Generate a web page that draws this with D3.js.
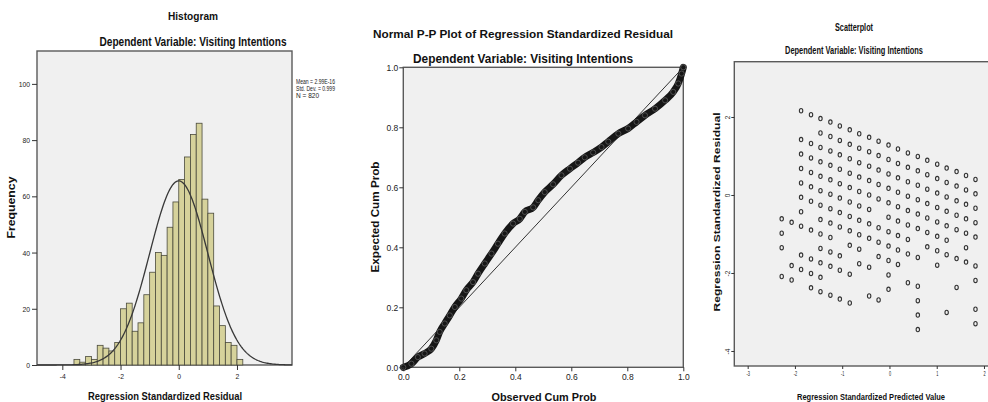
<!DOCTYPE html>
<html>
<head>
<meta charset="utf-8">
<script src="https://cdn.jsdelivr.net/npm/d3@7"></script>
<style>
  body { margin: 0; background: #fff; }
  svg { display: block; font-family: "Liberation Sans", Arial, sans-serif; }
</style>
</head>
<body>
<svg id="canvas" width="988" height="402"></svg>
<script>
// ---- histogram data ----
const histEdges = [-3.6, -3.4, -3.2, -3.0, -2.8, -2.6, -2.4, -2.2, -2.0, -1.8, -1.6, -1.4, -1.2, -1.0,
  -0.8, -0.6, -0.4, -0.2, 0.0, 0.2, 0.4, 0.6, 0.8, 1.0, 1.2, 1.4, 1.6, 1.8, 2.0, 2.2]
const histCounts = [2, 1, 3, 2, 7, 6, 5, 8, 20, 22, 12, 15, 25, 33, 40, 39, 49, 58, 66, 74, 82, 86,
  59, 54, 21, 14, 8, 7, 2]
const histMean = 2.99e-16
const histSd = 0.999
const histN = 820
const histStats = ["Mean = 2.99E-16", "Std. Dev. = 0.999", "N = 820"]
const histXTicks = [-4, -2, 0, 2]
const histYTicks = [0, 20, 40, 60, 80, 100]

// ---- P-P plot data ----
const ppObserved = [0, 0.029, 0.052, 0.076, 0.100, 0.118, 0.130, 0.148, 0.166, 0.184, 0.207, 0.225,
  0.249, 0.267, 0.291, 0.315, 0.338, 0.362, 0.392, 0.416, 0.434, 0.464, 0.482, 0.505, 0.535, 0.565,
  0.595, 0.624, 0.648, 0.678, 0.708, 0.732, 0.768, 0.803, 0.833, 0.863, 0.899, 0.935, 0.964, 0.982,
  0.994, 1.0]
const ppExpected = [0, 0.012, 0.034, 0.046, 0.062, 0.090, 0.118, 0.146, 0.173, 0.201, 0.229, 0.257,
  0.284, 0.312, 0.346, 0.379, 0.412, 0.446, 0.479, 0.495, 0.518, 0.533, 0.557, 0.584, 0.610, 0.640,
  0.662, 0.682, 0.700, 0.716, 0.734, 0.752, 0.779, 0.796, 0.818, 0.840, 0.862, 0.890, 0.918, 0.946,
  0.979, 1.0]
const ppTicks = [0, 0.2, 0.4, 0.6, 0.8, 1.0]

// ---- scatterplot data: one predicted value per column, residuals in that column ----
const predicted = [-2.28, -2.07, -1.87, -1.66, -1.46, -1.25, -1.05, -0.84, -0.64, -0.43, -0.23,
  -0.02, 0.18, 0.39, 0.60, 0.80, 1.01, 1.21, 1.42, 1.62, 1.82]
const residuals = [
  [-0.61, -0.98, -1.35, -2.09],
  [-0.70, -1.81, -2.18],
  [2.16, 1.42, 1.05, 0.68, 0.31, -0.06, -0.43, -0.80, -1.54, -1.91],
  [2.06, 1.32, 0.95, 0.58, 0.21, -0.16, -0.90, -1.64, -2.01, -2.38],
  [1.96, 1.59, 1.22, 0.85, 0.48, 0.11, -0.26, -0.63, -1.00, -1.37, -1.74, -2.11, -2.48],
  [1.87, 1.50, 1.13, 0.76, 0.39, 0.02, -0.35, -0.72, -1.09, -1.46, -1.83, -2.57],
  [1.77, 1.40, 1.03, 0.66, 0.29, -0.08, -0.45, -0.82, -1.56, -1.93, -2.67],
  [1.67, 1.30, 0.93, 0.56, 0.19, -0.18, -0.55, -0.92, -1.29, -2.03, -2.77],
  [1.57, 1.20, 0.83, 0.46, 0.09, -0.28, -0.65, -1.02, -1.39, -1.76],
  [1.48, 1.11, 0.74, 0.37, 0.00, -0.37, -0.74, -1.11, -1.85, -2.59],
  [1.38, 1.01, 0.64, 0.27, -0.10, -0.84, -1.21, -1.58, -2.69],
  [1.28, 0.91, 0.54, 0.17, -0.20, -0.57, -0.94, -1.31, -1.68, -2.05, -2.42],
  [1.18, 0.81, 0.44, 0.07, -0.30, -0.67, -1.04, -1.41, -1.78],
  [1.08, 0.71, 0.34, -0.03, -0.40, -0.77, -1.14, -1.51, -2.25],
  [0.99, 0.62, 0.25, -0.12, -0.49, -0.86, -1.60, -2.34, -2.71, -3.08, -3.45],
  [0.89, 0.52, 0.15, -0.22, -0.59, -0.96, -1.33],
  [0.79, 0.42, 0.05, -0.32, -0.69, -1.06, -1.43, -1.80],
  [0.69, 0.32, -0.05, -0.42, -0.79, -1.16, -1.53, -3.01],
  [0.60, 0.23, -0.15, -0.52, -0.89, -1.63, -2.37],
  [0.50, 0.13, -0.24, -0.61, -0.98, -1.35, -1.72],
  [0.40, 0.03, -0.34, -0.71, -1.08, -1.82, -2.19, -2.93, -3.30]
]
const scatterXTicks = [-3, -2, -1, 0, 1, 2]
const scatterYTicks = [-4, -2, 0, 2]

const svg = d3.select('#canvas')
const plain = d => String(d)   // hyphen minus, like the original

// squash text horizontally like the (narrow) original export
const squeeze = (sel, f) => {
  sel.each(function () {
    const w = this.getComputedTextLength()
    d3.select(this).attr('textLength', w * f).attr('lengthAdjust', 'spacingAndGlyphs')
  })
}

const title = (x, y, txt, size, w) => {
  svg.append('text')
    .attr('x', x).attr('y', y)
    .attr('text-anchor', 'middle')
    .attr('font-size', size)
    .attr('font-weight', 'bold')
    .attr('fill', '#111')
    .attr('textLength', w)
    .attr('lengthAdjust', 'spacingAndGlyphs')
    .text(txt)
}

const vtitle = (x, y, txt, size, w) => {
  svg.append('text')
    .attr('transform', `translate(${x},${y}) rotate(-90)`)
    .attr('text-anchor', 'middle')
    .attr('font-size', size)
    .attr('font-weight', 'bold')
    .attr('fill', '#111')
    .attr('textLength', w)
    .attr('lengthAdjust', 'spacingAndGlyphs')
    .text(txt)
}

const styleAxis = (g, size, f) => {
  g.select('.domain').remove()
  g.selectAll('.tick line').attr('stroke', '#333')
  g.selectAll('.tick text').attr('font-size', size).attr('fill', '#222')
    .attr('font-family', '"Liberation Sans", Arial, sans-serif')
  squeeze(g.selectAll('.tick text'), f)
}

const frame = (x0, y0, x1, y1) => {
  svg.append('rect')
    .attr('x', x0).attr('y', y0)
    .attr('width', x1 - x0).attr('height', y1 - y0)
    .attr('fill', '#f0f0f0')
    .attr('stroke', '#5a5a5a')
    .attr('stroke-width', 1.4)
}

//////////////
// histogram
//////////////
const hx = d3.scaleLinear().domain([-4.87, 3.89]).range([37, 292])
const hy = d3.scaleLinear().domain([0, 111.7]).range([365, 51])
frame(37, 51, 292, 365)

const bins = histCounts.map((c, i) => ({ x0: histEdges[i], x1: histEdges[i + 1], c }))
svg.append('g')
  .selectAll('rect')
  .data(bins)
  .enter()
  .append('rect')
  .attr('x', d => hx(d.x0))
  .attr('y', d => hy(d.c))
  .attr('width', d => hx(d.x1) - hx(d.x0))
  .attr('height', d => hy(0) - hy(d.c))
  .attr('fill', '#d6d29b')
  .attr('stroke', '#4a4a3c')
  .attr('stroke-width', 0.8)

// fitted normal curve from the stats shown in the legend
const binW = histEdges[1] - histEdges[0]
const dens = v => histN * binW * Math.exp(-0.5 * ((v - histMean) / histSd) ** 2) / (histSd * Math.sqrt(2 * Math.PI))
const [cx0, cx1] = hx.domain()
const curvePts = d3.range(0, 241).map(i => cx0 + (cx1 - cx0) * i / 240)
svg.append('path')
  .attr('d', d3.line().x(v => hx(v)).y(v => hy(dens(v)))(curvePts))
  .attr('fill', 'none')
  .attr('stroke', '#383838')
  .attr('stroke-width', 1.3)

svg.append('g').attr('transform', 'translate(37,0)')
  .call(d3.axisLeft(hy).tickValues(histYTicks).tickFormat(plain).tickSize(5).tickPadding(2))
  .call(g => styleAxis(g, 8, 0.85))
svg.append('g').attr('transform', 'translate(0,365)')
  .call(d3.axisBottom(hx).tickValues(histXTicks).tickFormat(plain).tickSize(5).tickPadding(3))
  .call(g => styleAxis(g, 8, 0.85))

const statWidths = [39, 39, 23]
svg.append('g')
  .selectAll('text')
  .data(histStats)
  .enter()
  .append('text')
  .attr('x', 296)
  .attr('y', (d, i) => 84 + i * 7)
  .attr('font-size', 6.4)
  .attr('fill', '#222')
  .attr('textLength', (d, i) => statWidths[i])
  .attr('lengthAdjust', 'spacingAndGlyphs')
  .text(d => d)

title(193, 20, 'Histogram', 11.5, 50)
title(193, 46, 'Dependent Variable: Visiting Intentions', 13, 187)
title(165, 400, 'Regression Standardized Residual', 11, 154)
vtitle(15, 207.5, 'Frequency', 10, 62)

//////////////
// P-P plot
//////////////
const px = d3.scaleLinear().domain([0, 1]).range([403.3, 683.3])
const py = d3.scaleLinear().domain([0, 1]).range([367.3, 67.3])
frame(403.3, 67.3, 683.3, 367.3)

svg.append('line')
  .attr('x1', px(0)).attr('y1', py(0))
  .attr('x2', px(1)).attr('y2', py(1))
  .attr('stroke', '#333')
  .attr('stroke-width', 1)

const ppData = ppObserved.map((o, i) => ({ o, e: ppExpected[i] }))
svg.append('path')
  .attr('d', d3.line().x(d => px(d.o)).y(d => py(d.e)).curve(d3.curveMonotoneX)(ppData))
  .attr('fill', 'none')
  .attr('stroke', '#161616')
  .attr('stroke-width', 7)
  .attr('stroke-linecap', 'round')
  .attr('stroke-linejoin', 'round')
svg.append('g')
  .selectAll('circle')
  .data(ppData)
  .enter()
  .append('circle')
  .attr('cx', d => px(d.o))
  .attr('cy', d => py(d.e))
  .attr('r', 2.6)
  .attr('fill', 'none')
  .attr('stroke', '#5c5c5c')
  .attr('stroke-width', 0.8)

svg.append('g').attr('transform', 'translate(403.3,0)')
  .call(d3.axisLeft(py).tickValues(ppTicks).tickSize(4).tickFormat(d3.format('.1f')).tickPadding(1))
  .call(g => styleAxis(g, 8.5, 1.0))
svg.append('g').attr('transform', 'translate(0,367.3)')
  .call(d3.axisBottom(px).tickValues(ppTicks).tickSize(4).tickFormat(d3.format('.1f')).tickPadding(3))
  .call(g => styleAxis(g, 8.5, 1.0))

title(523, 37.5, 'Normal P-P Plot of Regression Standardized Residual', 11.5, 300)
title(523, 63, 'Dependent Variable: Visiting Intentions', 12.5, 220)
title(544, 401, 'Observed Cum Prob', 11, 105)
vtitle(379, 217, 'Expected Cum Prob', 11, 111)

//////////////
// scatterplot
//////////////
const sx = d3.scaleLinear().domain([-3.283, 2.085]).range([734.3, 988])
const sy = d3.scaleLinear().domain([-4.385, 3.418]).range([366, 61.7])
frame(734.3, 61.7, 992, 366)

const scatterPts = predicted.flatMap((p, i) => residuals[i].map(r => ({ p, r })))
svg.append('g')
  .selectAll('ellipse')
  .data(scatterPts)
  .enter()
  .append('ellipse')
  .attr('cx', d => sx(d.p))
  .attr('cy', d => sy(d.r))
  .attr('rx', 1.7)
  .attr('ry', 2.2)
  .attr('fill', 'none')
  .attr('stroke', '#333')
  .attr('stroke-width', 1.1)

svg.append('g').attr('transform', 'translate(734.3,0)')
  .call(d3.axisLeft(sy).tickValues(scatterYTicks).tickFormat(plain).tickSize(3).tickPadding(1))
  .call(g => {
    styleAxis(g, 6.5, 1.0)
    g.selectAll('.tick text')
      .attr('x', null).attr('dy', null)
      .attr('text-anchor', 'middle')
      .attr('transform', 'translate(-4,0) rotate(-90)')
  })
svg.append('g').attr('transform', 'translate(0,366)')
  .call(d3.axisBottom(sx).tickValues(scatterXTicks).tickFormat(plain).tickSize(3).tickPadding(2))
  .call(g => styleAxis(g, 6.5, 0.6))

title(854, 31, 'Scatterplot', 11, 38)
title(854, 54.3, 'Dependent Variable: Visiting Intentions', 10, 138)
title(871, 400, 'Regression Standardized Predicted Value', 9.3, 148)
vtitle(720, 212, 'Regression Standardized Residual', 9.5, 199)
</script>
</body>
</html>
